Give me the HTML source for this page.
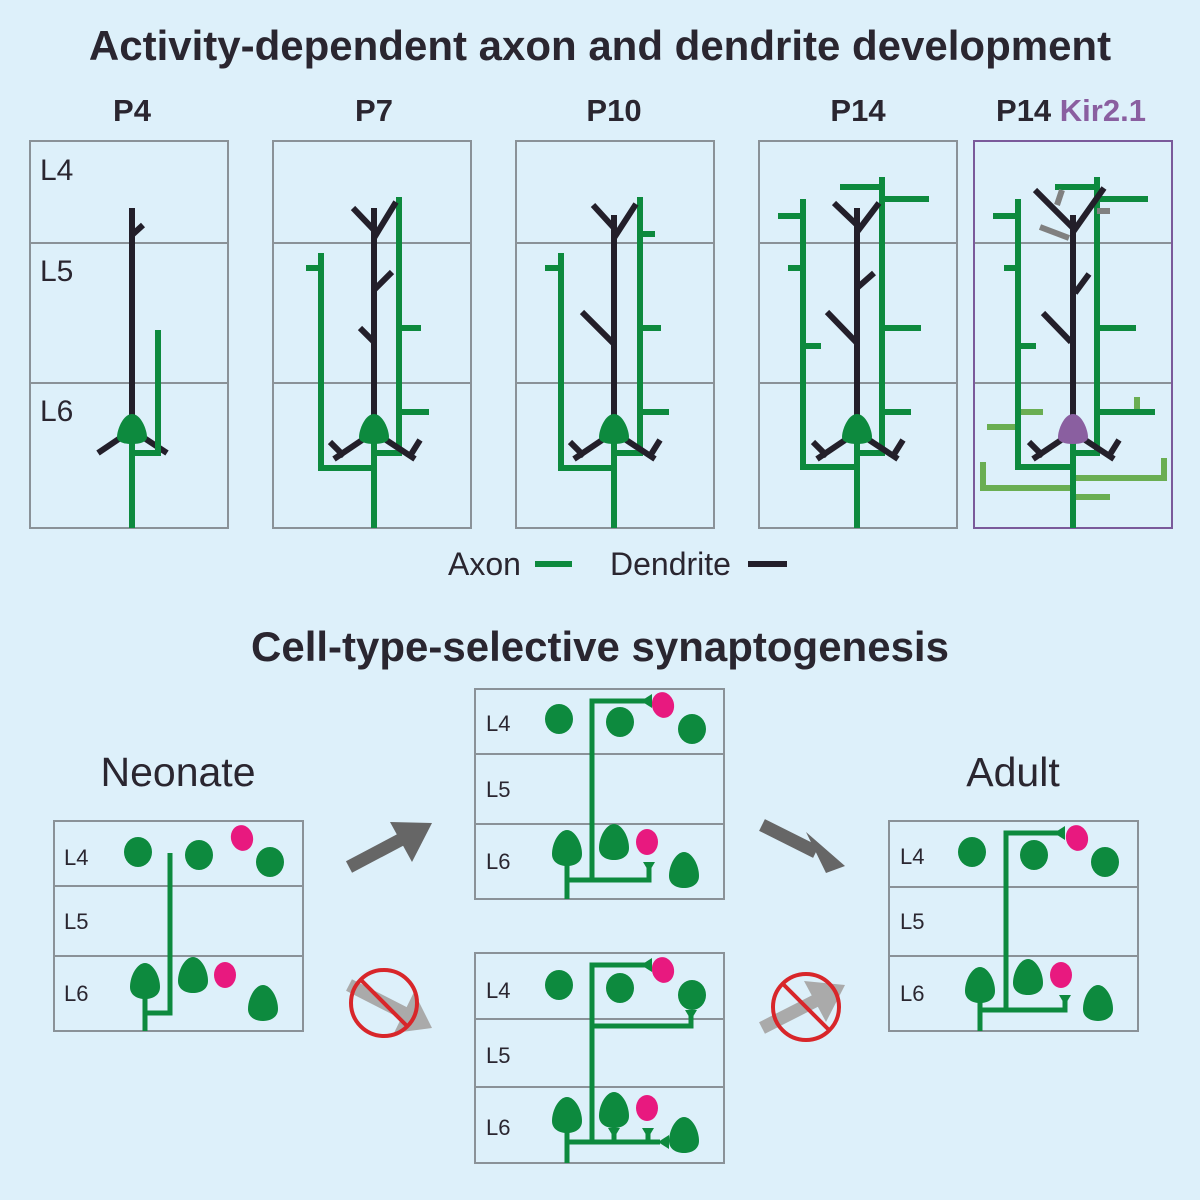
<!DOCTYPE html>
<html><head><meta charset="utf-8"><style>
html,body{margin:0;padding:0;background:#ddf0fa;}
svg{display:block;font-family:"Liberation Sans",Arial,sans-serif;}
</style></head><body>
<svg width="1200" height="1200" viewBox="0 0 1200 1200" xmlns="http://www.w3.org/2000/svg">
<defs>
<path id="td" d="M0,-18 C8,-18 15,-5 15,6 C15,14 8,18 0,18 C-8,18 -15,14 -15,6 C-15,-5 -8,-18 0,-18Z"/>
<path id="sm" d="M0,-16 C9,-16 15,0 15,7 C15,12 8,14 0,14 C-8,14 -15,12 -15,7 C-15,0 -9,-16 0,-16Z"/>
</defs>
<rect width="1200" height="1200" fill="#ddf0fa"/>
<text x="600" y="60" font-size="42" font-weight="bold" fill="#2a2630" text-anchor="middle">Activity-dependent axon and dendrite development</text>
<g font-size="31" font-weight="bold" fill="#2a2630" text-anchor="middle">
<text x="132" y="121">P4</text><text x="374" y="121">P7</text><text x="614" y="121">P10</text><text x="858" y="121">P14</text>
<text x="1071" y="121">P14 <tspan fill="#8a5fa0">Kir2.1</tspan></text>
</g>
<g fill="none" stroke="#8a9298" stroke-width="2">
<rect x="30" y="141" width="198" height="387"/><rect x="273" y="141" width="198" height="387"/>
<rect x="516" y="141" width="198" height="387"/><rect x="759" y="141" width="198" height="387"/>
<path d="M30 243H228M30 383H228M273 243H471M273 383H471M516 243H714M516 383H714M759 243H957M759 383H957M974 243H1172M974 383H1172"/>
</g>
<rect x="974" y="141" width="198" height="387" fill="none" stroke="#7a5a9a" stroke-width="2"/>
<g font-size="30" fill="#2a2630"><text x="40" y="180">L4</text><text x="40" y="281">L5</text><text x="40" y="421">L6</text></g>
<!-- P4 -->
<g stroke="#231f2a" stroke-width="6" fill="none">
<path d="M132 208V430M132 235L143 225M98 453L132 430L167 453"/>
</g>
<g stroke="#0d8a3e" stroke-width="6" fill="none"><path d="M132 440V528M132 453H158V330"/></g>
<use href="#sm" x="132" y="430" fill="#0d8a3e"/>
<!-- P7 -->
<g stroke="#0d8a3e" stroke-width="6" fill="none">
<path d="M374 440V528M374 453H399V197M399 328H421M399 412H429M374 468H321V253M306 268H321"/>
</g>
<g stroke="#231f2a" stroke-width="6" fill="none">
<path d="M374 208V430M353 208L374 230M374 238L396 202M374 290L392 272M360 328L374 342M374 432L334 459M330 442L344 456M374 432L415 459M420 440L410 456"/>
</g>
<use href="#sm" x="374" y="430" fill="#0d8a3e"/>
<!-- P10 -->
<g stroke="#0d8a3e" stroke-width="6" fill="none">
<path d="M614 440V528M614 453H640V197M640 234H655M640 328H661M640 412H669M614 468H561V253M545 268H561"/>
</g>
<g stroke="#231f2a" stroke-width="6" fill="none">
<path d="M614 215V430M593 205L614 228M614 238L636 204M582 312L614 344M614 432L574 459M570 442L584 456M614 432L655 459M660 440L650 456"/>
</g>
<use href="#sm" x="614" y="430" fill="#0d8a3e"/>
<!-- P14 -->
<g stroke="#0d8a3e" stroke-width="6" fill="none">
<path d="M857 440V528M857 453H882V177M840 187H882M882 199H929M882 328H921M882 412H911M857 467H803V199M778 216H803M788 268H803M803 346H821"/>
</g>
<g stroke="#231f2a" stroke-width="6" fill="none">
<path d="M857 208V430M834 203L857 225M857 232L879 203M857 288L874 273M827 312L857 343M857 432L817 459M813 442L827 456M857 432L898 459M903 440L893 456"/>
</g>
<use href="#sm" x="857" y="430" fill="#0d8a3e"/>
<!-- Kir -->
<g stroke="#6aae52" stroke-width="6" fill="none">
<path d="M1021 412H1043M987 427H1016M983 462V488H1071M1075 478H1164V458M1075 497H1110M1137 397V412"/>
</g>
<g stroke="#0d8a3e" stroke-width="6" fill="none">
<path d="M1073 440V528M1073 453H1097V177M1055 187H1097M1097 199H1148M1097 328H1136M1097 412H1155M1073 467H1018V199M993 216H1018M1004 268H1018M1018 346H1036"/>
</g>
<g stroke="#808080" stroke-width="6" fill="none"><path d="M1062 190L1057 205M1040 227L1069 238M1097 211H1110"/></g>
<g stroke="#231f2a" stroke-width="6" fill="none">
<path d="M1073 215V430M1035 190L1073 228M1073 232L1104 188M1075 293L1089 274M1043 313L1071 342M1073 432L1033 459M1029 442L1043 456M1073 432L1114 459M1119 440L1109 456"/>
</g>
<use href="#sm" x="1073" y="430" fill="#8a5fa0"/>
<!-- legend -->
<g font-size="32" fill="#2a2630"><text x="448" y="575">Axon</text><text x="610" y="575">Dendrite</text></g>
<path d="M535 564H572" stroke="#0d8a3e" stroke-width="6"/><path d="M748 564H787" stroke="#231f2a" stroke-width="6"/>

<!-- bottom -->
<text x="600" y="661" font-size="42" font-weight="bold" fill="#2a2630" text-anchor="middle">Cell-type-selective synaptogenesis</text>
<text x="178" y="786" font-size="41" fill="#2a2630" text-anchor="middle">Neonate</text>
<text x="1013" y="786" font-size="41" fill="#2a2630" text-anchor="middle">Adult</text>
<g fill="none" stroke="#8a9298" stroke-width="2">
<rect x="54" y="821" width="249" height="210"/><path d="M54 886H303M54 956H303"/>
<rect x="475" y="689" width="249" height="210"/><path d="M475 754H724M475 824H724"/>
<rect x="475" y="953" width="249" height="210"/><path d="M475 1019H724M475 1087H724"/>
<rect x="889" y="821" width="249" height="210"/><path d="M889 887H1138M889 956H1138"/>
</g>
<g font-size="22" fill="#2a2630">
<text x="64" y="865">L4</text><text x="64" y="929">L5</text><text x="64" y="1001">L6</text>
<text x="486" y="731">L4</text><text x="486" y="797">L5</text><text x="486" y="869">L6</text>
<text x="486" y="998">L4</text><text x="486" y="1063">L5</text><text x="486" y="1135">L6</text>
<text x="900" y="864">L4</text><text x="900" y="929">L5</text><text x="900" y="1001">L6</text>
</g>
<g fill="#0d8a3e">
<ellipse cx="138" cy="852" rx="14" ry="15"/><ellipse cx="199" cy="855" rx="14" ry="15"/><ellipse cx="270" cy="862" rx="14" ry="15"/>
<use href="#td" x="145" y="981"/><use href="#td" x="193" y="975"/><use href="#td" x="263" y="1003"/>
<ellipse cx="559" cy="719" rx="14" ry="15"/><ellipse cx="620" cy="722" rx="14" ry="15"/><ellipse cx="692" cy="729" rx="14" ry="15"/>
<use href="#td" x="567" y="848"/><use href="#td" x="614" y="842"/><use href="#td" x="684" y="870"/>
<ellipse cx="559" cy="985" rx="14" ry="15"/><ellipse cx="620" cy="988" rx="14" ry="15"/><ellipse cx="692" cy="995" rx="14" ry="15"/>
<use href="#td" x="567" y="1115"/><use href="#td" x="614" y="1110"/><use href="#td" x="684" y="1135"/>
<ellipse cx="972" cy="852" rx="14" ry="15"/><ellipse cx="1034" cy="855" rx="14" ry="15"/><ellipse cx="1105" cy="862" rx="14" ry="15"/>
<use href="#td" x="980" y="985"/><use href="#td" x="1028" y="977"/><use href="#td" x="1098" y="1003"/>
</g>
<g fill="#e8197f">
<ellipse cx="242" cy="838" rx="11" ry="13" transform="rotate(-15 242 838)"/><ellipse cx="225" cy="975" rx="11" ry="13"/>
<ellipse cx="663" cy="705" rx="11" ry="13" transform="rotate(-15 663 705)"/><ellipse cx="647" cy="842" rx="11" ry="13"/>
<ellipse cx="663" cy="970" rx="11" ry="13" transform="rotate(-15 663 970)"/><ellipse cx="647" cy="1108" rx="11" ry="13"/>
<ellipse cx="1077" cy="838" rx="11" ry="13" transform="rotate(-15 1077 838)"/><ellipse cx="1061" cy="975" rx="11" ry="13"/>
</g>
<g stroke="#0d8a3e" stroke-width="5" fill="none">
<path d="M170 853V1013H145M145 990V1031"/>
<path d="M592 880V701H645M567 855V899M567 880H649V866"/>
<path d="M592 1142V965H645M592 1026H691V1013M567 1122V1163M567 1142H660M614 1142V1132M648 1142V1132"/>
<path d="M1006 1010V833H1058M980 992V1031M980 1010H1065V1000"/>
</g>
<g fill="#0d8a3e">
<polygon points="641,701 652,694 652,708"/><polygon points="643,862 655,862 649,872"/>
<polygon points="641,965 652,958 652,972"/><polygon points="685,1010 697,1010 691,1020"/>
<polygon points="608,1128 620,1128 614,1138"/><polygon points="642,1128 654,1128 648,1138"/><polygon points="658,1142 669,1135 669,1149"/>
<polygon points="1054,833 1065,826 1065,840"/><polygon points="1059,995 1071,995 1065,1005"/>
</g>
<!-- arrows -->
<g>
<path d="M349 867L402 839" stroke="#666" stroke-width="13"/><polygon points="432,823 390,822 412,862" fill="#666"/>
<path d="M762 825L816 852" stroke="#666" stroke-width="13"/><polygon points="845,866 806,832 826,873" fill="#666"/>
<path d="M349 985L404 1013" stroke="#aaa" stroke-width="13"/><polygon points="432,1028 394,1033 414,992" fill="#aaa"/>
<path d="M762 1028L817 1000" stroke="#aaa" stroke-width="13"/><polygon points="845,985 804,981 826,1022" fill="#aaa"/>
</g>
<g fill="none" stroke="#d8262a" stroke-width="4">
<circle cx="384" cy="1003" r="33"/><path d="M361 980L407 1026"/>
<circle cx="806" cy="1007" r="33"/><path d="M783 984L829 1030"/>
</g>
</svg>
</body></html>
